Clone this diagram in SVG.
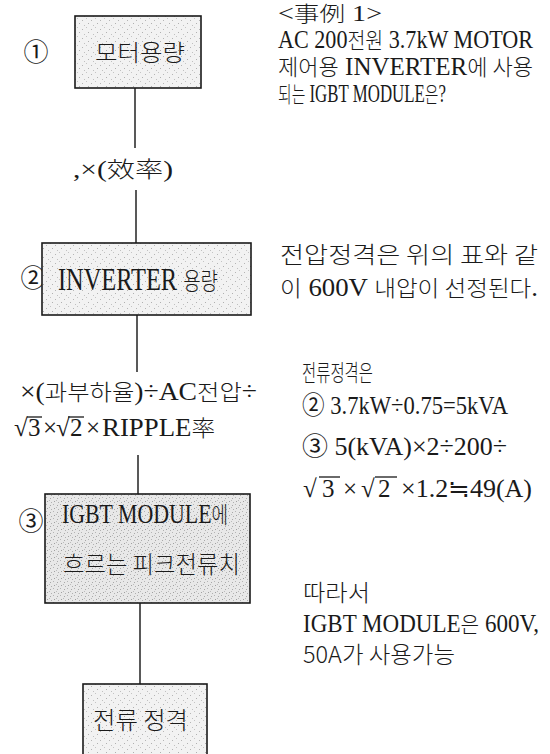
<svg xmlns="http://www.w3.org/2000/svg" width="550" height="754" viewBox="0 0 550 754">
<defs>
  <pattern id="dots" width="9" height="9" patternUnits="userSpaceOnUse">
    <rect width="9" height="9" fill="#f2f2f2"/>
    <rect x="1" y="2" width="1" height="1" fill="#b5b5b5"/>
    <rect x="5" y="0" width="1" height="1" fill="#c4c4c4"/>
    <rect x="7" y="5" width="1" height="1" fill="#b0b0b0"/>
    <rect x="3" y="7" width="1" height="1" fill="#c0c0c0"/>
  </pattern>
  <pattern id="dotsDense" width="7" height="7" patternUnits="userSpaceOnUse">
    <rect width="7" height="7" fill="#e8e8e8"/>
    <rect x="1" y="1" width="1" height="1" fill="#a8a8a8"/>
    <rect x="4" y="0" width="1" height="1" fill="#b5b5b5"/>
    <rect x="5" y="4" width="1" height="1" fill="#a0a0a0"/>
    <rect x="2" y="5" width="1" height="1" fill="#b0b0b0"/>
    <rect x="0" y="3" width="1" height="1" fill="#bcbcbc"/>
  </pattern>
</defs>
<style>
  .t { font-family: 'Liberation Serif', 'Noto Sans CJK KR', serif; font-size: 25px; fill: #1a1a1a; }
  .h { font-family: 'Noto Sans CJK KR', sans-serif; font-size: 22px; font-weight: 300; }
  .k { font-family: 'Noto Sans CJK KR', sans-serif; font-size: 23px; font-weight: 300; fill: #1a1a1a; }
  .c { font-family: 'Noto Sans CJK KR', 'DejaVu Sans', sans-serif; font-size: 25px; fill: #1a1a1a; text-anchor: middle; }
  .cs { font-family: 'Noto Sans CJK KR', 'DejaVu Sans', sans-serif; font-size: 25px; }
  .box { stroke: #1a1a1a; stroke-width: 1.6; }
  .edge { stroke: #222; stroke-width: 1.5; fill: none; }
  .bar { stroke: #1a1a1a; stroke-width: 1.3; }
</style>
<rect width="550" height="754" fill="#ffffff"/>

<g id="connectors">
  <line class="edge" x1="135" y1="88" x2="135" y2="148"/>
  <line class="edge" x1="136" y1="190" x2="136" y2="243"/>
  <line class="edge" x1="137" y1="315" x2="137" y2="372"/>
  <line class="edge" x1="138" y1="455" x2="138" y2="494"/>
  <line class="edge" x1="140" y1="603" x2="140" y2="684"/>
  <text class="t" x="73" y="177" style="font-size:23px" textLength="100" lengthAdjust="spacingAndGlyphs">,×(<tspan class="h">效率</tspan>)</text>
  <text class="t" x="20" y="400" textLength="237" lengthAdjust="spacingAndGlyphs">×(<tspan class="h">과부하율</tspan>)÷AC<tspan class="h">전압</tspan>÷</text>
  <g id="label-sqrt">
    <text class="t" y="436"><tspan x="14">√</tspan><tspan x="28">3</tspan><tspan x="43">×</tspan><tspan x="56">√</tspan><tspan x="70">2</tspan><tspan x="86">×</tspan></text>
    <text class="t" x="102" y="436" textLength="113" lengthAdjust="spacingAndGlyphs">RIPPLE<tspan class="h">率</tspan></text>
    <line class="bar" x1="27" y1="417" x2="42" y2="417"/>
    <line class="bar" x1="68" y1="417" x2="84" y2="417"/>
  </g>
</g>

<g id="node1">
  <text class="c" x="36" y="61">①</text>
  <rect class="box" fill="url(#dots)" x="75" y="16" width="126" height="72"/>
  <text class="k" x="95" y="61" textLength="90" lengthAdjust="spacingAndGlyphs">모터용량</text>
</g>

<g id="node2">
  <text class="c" x="33" y="287">②</text>
  <rect class="box" fill="url(#dots)" x="42" y="243" width="209" height="72"/>
  <text class="t" x="58" y="290" style="font-size:31px" textLength="160" lengthAdjust="spacingAndGlyphs">INVERTER <tspan class="h" style="font-size:24px">용량</tspan></text>
</g>

<g id="node3">
  <text class="c" x="31" y="530">③</text>
  <rect class="box" fill="url(#dotsDense)" x="45" y="494" width="205" height="109"/>
  <text class="t" x="62" y="523" style="font-size:28px" textLength="166" lengthAdjust="spacingAndGlyphs">IGBT MODULE<tspan class="h" style="font-size:23px">에</tspan></text>
  <text class="k" x="63" y="573" style="font-size:24px" textLength="177" lengthAdjust="spacingAndGlyphs">흐르는 피크전류치</text>
</g>

<g id="node4">
  <rect class="box" fill="url(#dots)" x="83" y="684" width="124" height="80"/>
  <text class="k" x="93" y="729" style="font-size:24px" textLength="95" lengthAdjust="spacingAndGlyphs">전류 정격</text>
</g>

<g id="notes">
  <text class="t" x="278" y="21" style="font-size:23px" textLength="104" lengthAdjust="spacingAndGlyphs">&lt;<tspan class="h" style="font-size:21px">事例</tspan> 1&gt;</text>
  <text class="t" x="278" y="48" textLength="255" lengthAdjust="spacingAndGlyphs">AC 200<tspan class="h">전원</tspan> 3.7kW MOTOR</text>
  <text class="t" x="278" y="75" textLength="255" lengthAdjust="spacingAndGlyphs"><tspan class="h">제어용</tspan> INVERTER<tspan class="h">에 사용</tspan></text>
  <text class="t" x="278" y="102" textLength="168" lengthAdjust="spacingAndGlyphs"><tspan class="h">되는</tspan> IGBT MODULE<tspan class="h">은</tspan>?</text>

  <text class="k" x="280" y="263" textLength="258" lengthAdjust="spacingAndGlyphs">전압정격은 위의 표와 같</text>
  <text class="t" x="280" y="296" textLength="258" lengthAdjust="spacingAndGlyphs"><tspan class="h">이</tspan> 600V <tspan class="h">내압이 선정된다</tspan>.</text>

  <text class="k" x="302" y="381" textLength="71" lengthAdjust="spacingAndGlyphs">전류정격은</text>
  <text class="t" x="302" y="414" textLength="206" lengthAdjust="spacingAndGlyphs"><tspan class="cs">②</tspan> 3.7kW÷0.75=5kVA</text>
  <text class="t" x="302" y="455" textLength="205" lengthAdjust="spacingAndGlyphs"><tspan class="cs">③</tspan> 5(kVA)×2÷200÷</text>
  <g id="note-sqrt">
    <text class="t" y="497"><tspan x="303">√</tspan><tspan x="322">3</tspan><tspan x="343">×</tspan><tspan x="361">√</tspan><tspan x="378">2</tspan></text>
    <text class="t" x="401" y="497" textLength="131" lengthAdjust="spacingAndGlyphs">×1.2≒49(A)</text>
    <line class="bar" x1="319" y1="477" x2="340" y2="477"/>
    <line class="bar" x1="375" y1="477" x2="397" y2="477"/>
  </g>

  <text class="k" x="303" y="601" textLength="67" lengthAdjust="spacingAndGlyphs">따라서</text>
  <text class="t" x="303" y="632" textLength="236" lengthAdjust="spacingAndGlyphs">IGBT MODULE<tspan class="h">은</tspan> 600V,</text>
  <text class="k" x="303" y="663" textLength="152" lengthAdjust="spacingAndGlyphs">50A가 사용가능</text>
</g>
</svg>
